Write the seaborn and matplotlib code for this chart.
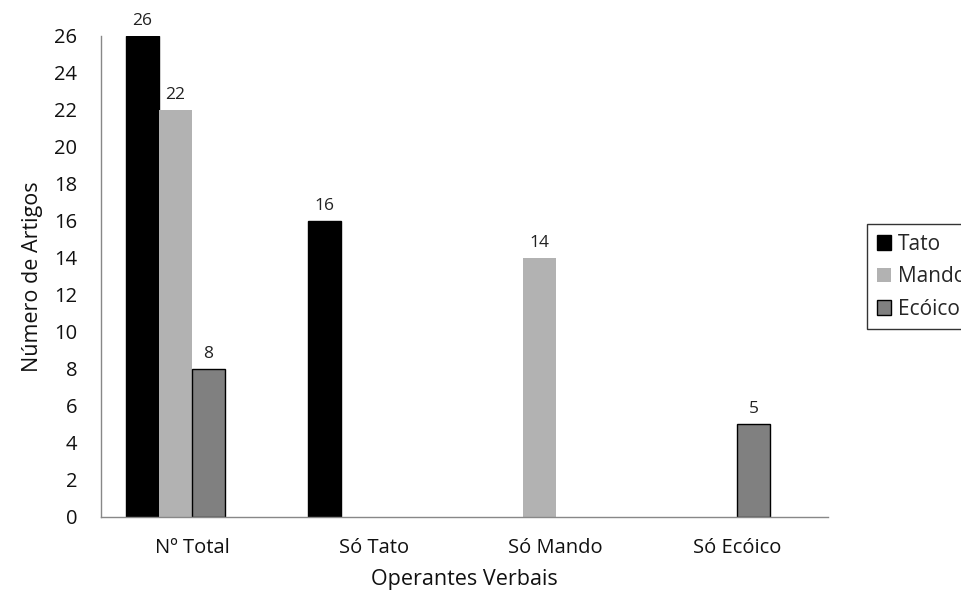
import matplotlib
matplotlib.use("Agg")
import matplotlib.pyplot as plt
import pandas as pd
import seaborn as sns
from matplotlib.patches import Patch

categories = ["Nº Total", "Só Tato", "Só Mando", "Só Ecóico"]
tato = [26, 16, 0, 0]
mando = [22, 0, 14, 0]
ecoico = [8, 0, 0, 5]
series = ["Tato", "Mando", "Ecóico"]

sns.set_style("white")
plt.rcParams['font.family'] = ['Open Sans', 'DejaVu Sans']

rows = []
for i, c in enumerate(categories):
    rows.append((c, "Tato", tato[i]))
    rows.append((c, "Mando", mando[i]))
    rows.append((c, "Ecóico", ecoico[i]))
    rows.append((c, "_pad", 0))  # empty 4th slot, like the original
df = pd.DataFrame(rows, columns=["cat", "serie", "n"])

fig = plt.figure(figsize=(9.62, 5.99), dpi=100)
ax = fig.add_axes([0.105, 0.137, 0.756, 0.803])

pal = {"Tato": "#000000", "Mando": "#b2b2b2", "Ecóico": "#808080", "_pad": "#ffffff"}
sns.barplot(data=df, x="cat", y="n", hue="serie", hue_order=series + ["_pad"],
            order=categories, palette=pal, width=0.725, gap=0, ax=ax,
            legend=False, saturation=1)

for p in ax.patches:
    h = p.get_height()
    fc = p.get_facecolor()
    if h == 0:
        p.set_visible(False)
        continue
    if abs(fc[0] - 0.698) < 0.01:
        p.set_edgecolor("none")
    else:
        p.set_edgecolor("black")
        p.set_linewidth(1)
    ax.text(p.get_x() + p.get_width() / 2, h + 0.4, f"{int(h)}",
            ha="center", va="bottom", fontsize=12.5, color="#222222")

ax.set_ylim(0, 26)
ax.set_xlim(-0.5, 3.5)
ax.set_yticks(range(0, 27, 2))
ax.set_xticks([-0.5, 0.5, 1.5, 2.5, 3.5], minor=False)
ax.set_xticklabels([])
ax.set_xticks(range(4), minor=True)
ax.set_xticklabels(categories, minor=True)
ax.tick_params(axis="x", which="minor", length=0, labelsize=14.5, pad=15, colors="#111111")
ax.tick_params(axis="x", which="major", length=6, direction="out", color="#888888")
ax.tick_params(axis="y", length=5, direction="out", color="#888888", labelsize=14.5,
               labelcolor="#111111", pad=12)
for s in ["top", "right"]:
    ax.spines[s].set_visible(False)
for s in ["left", "bottom"]:
    ax.spines[s].set_color("#888888")
    ax.spines[s].set_linewidth(1)

ax.set_xlabel("Operantes Verbais", fontsize=15.5, labelpad=8, color="#111111")
ax.set_ylabel("Número de Artigos", fontsize=15.5, labelpad=8, color="#111111")

handles = [Patch(facecolor="#000000", edgecolor="black"),
           Patch(facecolor="#b2b2b2", edgecolor="none"),
           Patch(facecolor="#808080", edgecolor="black")]
fig.legend(handles, series, loc="upper left", bbox_to_anchor=(857 / 962, 1 - 214 / 599),
           frameon=True, fancybox=False, edgecolor="black", fontsize=15,
           handlelength=0.7, handleheight=0.7, handletextpad=0.3, labelspacing=0.55,
           borderpad=0.45)

fig.savefig("out.png", dpi=100)
